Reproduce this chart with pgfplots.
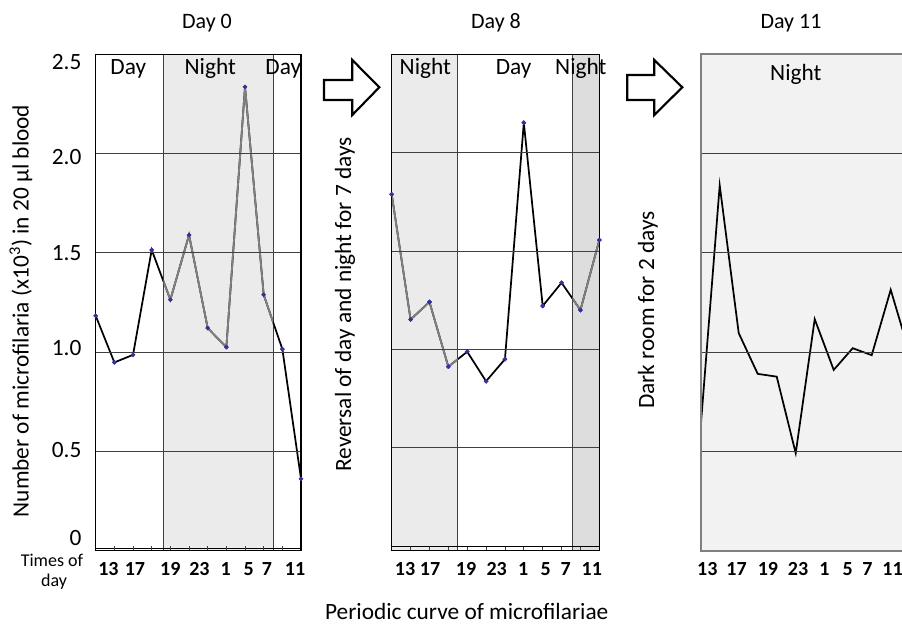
\documentclass[border=0pt]{standalone}
\usepackage{fontspec}
\setmainfont{Carlito}
\usepackage{pgfplots}
\usepackage{pgfplotstable}
\pgfplotsset{compat=1.18}
\definecolor{nightA}{RGB}{235,235,235}
\definecolor{nightB}{RGB}{221,221,221}
\definecolor{darkbg}{RGB}{242,242,242}
\definecolor{gridc}{RGB}{64,64,64}
\definecolor{grayline}{RGB}{128,128,128}
\definecolor{markc}{RGB}{50,50,160}
\definecolor{framegray}{RGB}{128,128,128}
\newcommand{\fA}{\fontsize{17.5}{21}\selectfont}
\newcommand{\fT}{\fontsize{16.5}{20}\selectfont}
\newcommand{\fB}{\fontsize{15}{18}\selectfont\bfseries}
\newcommand{\fS}{\fontsize{13.5}{16}\selectfont}

\pgfplotstableread{
i v
0 1.183
1 0.948
2 0.986
3 1.515
4 1.264
5 1.590
6 1.121
7 1.025
8 2.337
9 1.289
10 1.015
11 0.361
}\dayzero
\pgfplotstableread{
i v
0 1.789
1 1.152
2 1.241
3 0.912
4 0.988
5 0.838
6 0.950
7 2.153
8 1.221
9 1.339
10 1.200
11 1.556
}\dayeight
\pgfplotstableread{
i v
0 0.626
1 1.839
2 1.096
3 0.891
4 0.877
5 0.492
6 1.166
7 0.911
8 1.020
9 0.985
10 1.314
11 0.992
}\dayeleven

\pgfplotsset{panel/.style={
  scale only axis, xmin=0, xmax=11,
  axis on top,
  ymajorgrids, major grid style={gridc, line width=0.75pt},
  ytick={0.5,1,1.5,2}, yticklabels={},
  major tick length=0pt, minor tick length=3pt,
  tick align=inside, tick pos=left,
  minor tick style={gridc, line width=0.5pt},
  xticklabels={13,17,19,23,1,5,7,11},
  xticklabel style={font=\fB, anchor=base, yshift=-18.5pt},
  /pgf/number format/assume math mode=true,
  axis line style={black, line width=0.9pt},
  clip=true,
}}
\tikzset{dline/.style={black, line width=1.3pt, mark=*, mark size=0.8pt, mark options={markc, fill=markc}},
         gline/.style={grayline, line width=1.3pt, mark=*, mark size=0.8pt, mark options={markc, fill=markc}}}

\begin{document}
\begin{tikzpicture}[x=0.75pt,y=0.75pt]
\useasboundingbox (0,0) rectangle (902,624);
\clip (0,0) rectangle (902,624);

% ---------- Panel 1: Day 0
\begin{axis}[panel, at={(71.78pt,55.13pt)}, anchor=south west,
  width=153.98pt, height=372pt, ymin=0, ymax=2.5,
  xtick={0.68,2.1,4.0,5.56,6.97,8.2,9.18,10.68},
  minor xtick={1,...,10},
  extra y ticks={0.061,0.508,1.021,1.500,1.982,2.462},
  extra y tick labels={0,0.5,1.0,1.5,2.0,2.5},
  extra y tick style={grid=none, major tick length=0pt,
     yticklabel style={font=\fA, anchor=east, inner sep=0pt, xshift=-10.5pt}}]
\fill[nightA] (axis cs:3.62,-0.1) rectangle (axis cs:9.50,2.6);
\draw[gridc, line width=0.75pt] (axis cs:3.62,-0.1) -- (axis cs:3.62,2.6);
\draw[gridc, line width=0.75pt] (axis cs:9.50,-0.1) -- (axis cs:9.50,2.6);
\draw[black, line width=0.8pt] (axis cs:0,0.012) -- (axis cs:11,0.012);
\addplot[dline] table {\dayzero};
\begin{scope}
\clip (axis cs:3.62,-0.1) rectangle (axis cs:9.50,2.6);
\addplot[gline] table {\dayzero};
\end{scope}
\end{axis}

% ---------- Panel 2: Day 8
\begin{axis}[panel, at={(293.78pt,54.98pt)}, anchor=south west,
  width=155.7pt, height=372.15pt, ymin=-0.024, ymax=2.5,
  xtick={0.71,2.03,3.94,5.56,6.97,8.16,9.22,10.6},
  minor xtick={1,...,10}]
\fill[nightA] (axis cs:-0.1,-0.1) rectangle (axis cs:3.50,2.6);
\fill[nightB] (axis cs:9.57,-0.1) rectangle (axis cs:11.1,2.6);
\draw[gridc, line width=0.75pt] (axis cs:3.50,-0.1) -- (axis cs:3.50,2.6);
\draw[gridc, line width=0.75pt] (axis cs:9.57,-0.1) -- (axis cs:9.57,2.6);
\draw[black, line width=0.8pt] (axis cs:0,-0.005) -- (axis cs:11,-0.005);
\addplot[dline] table {\dayeight};
\begin{scope}
\clip (axis cs:-0.1,-0.1) rectangle (axis cs:3.50,2.6);
\addplot[gline] table {\dayeight};
\end{scope}
\begin{scope}
\clip (axis cs:9.57,-0.1) rectangle (axis cs:11.1,2.6);
\addplot[gline] table {\dayeight};
\end{scope}
\end{axis}

% ---------- Panel 3: Day 11
\begin{axis}[panel, at={(525.53pt,54.75pt)}, anchor=south west,
  width=156.75pt, height=372.75pt, ymin=0, ymax=2.5,
  xtick={0.35,1.89,3.54,5.12,6.51,7.74,8.77,10.1},
  axis background/.style={fill=darkbg},
  axis line style={draw=framegray, line width=1.2pt}]
\addplot[black, line width=1.3pt] table {\dayeleven};
\end{axis}

% ---------- titles and labels
\node[font=\fT, anchor=base] at (207,595.7) {Day 0};
\node[font=\fT, anchor=base] at (496,595.7) {Day 8};
\node[font=\fT, anchor=base] at (791,595.7) {Day 11};

\node[font=\fA, anchor=base] at (128.3,549) {Day};
\node[font=\fA, anchor=base] at (210.3,549) {Night};
\node[font=\fA, anchor=base] at (283.3,549) {Day};
\node[font=\fA, anchor=base] at (425.3,549) {Night};
\node[font=\fA, anchor=base] at (513.7,549) {Day};
\node[font=\fA, anchor=base] at (580.8,549) {Night};
\node[font=\fA, anchor=base] at (795.8,543) {Night};

\node[font=\fA, rotate=90] at (21,313) {Number of microfilaria (x10\textsuperscript{3}) in 20 µl blood};
\node[font=\fA, rotate=90] at (345,319.5) {Reversal of day and night for 7 days};
\node[font=\fA, rotate=90] at (648,314) {Dark room for 2 days};

\node[font=\fA, anchor=base] at (466.7,5) {Periodic curve of microfilariae};
\node[font=\fS, anchor=base] at (52,57.3) {Times of};
\node[font=\fS, anchor=base] at (54,37.3) {day};

% block arrows
\draw[black, line width=1.6pt, fill=white, line join=miter]
  (324,544) -- (352.3,544) -- (352.3,564) -- (379.3,536.7) -- (352.3,509) -- (352.3,524) -- (324,524) -- cycle;
\draw[black, line width=1.6pt, fill=white, line join=miter]
  (627.3,549) -- (654.3,549) -- (654.3,564) -- (682.3,536.7) -- (654.3,509) -- (654.3,524) -- (627.3,524) -- cycle;
\end{tikzpicture}
\end{document}
